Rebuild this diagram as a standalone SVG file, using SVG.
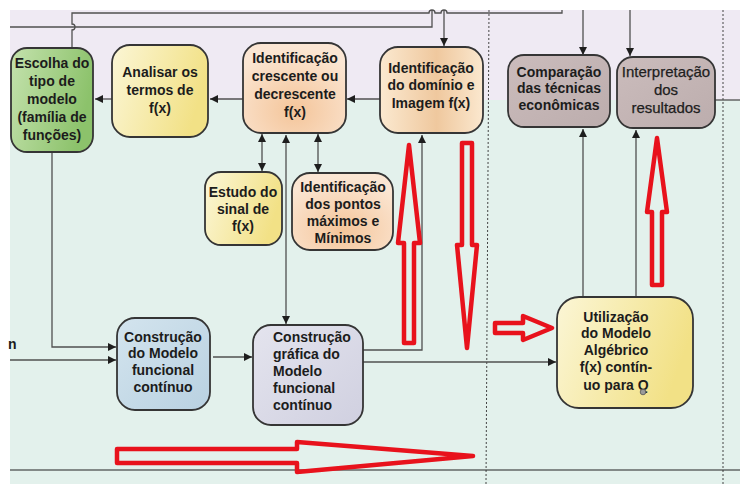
<svg xmlns="http://www.w3.org/2000/svg" width="740" height="484" viewBox="0 0 740 484">
<defs>
  <linearGradient id="gGreen" x1="0" y1="0" x2="1" y2="0.3">
    <stop offset="0" stop-color="#c4e2ad"/>
    <stop offset="1" stop-color="#8cc26b"/>
  </linearGradient>
  <linearGradient id="gYellow" x1="0" y1="0" x2="1" y2="0.3">
    <stop offset="0" stop-color="#fbf6d6"/>
    <stop offset="1" stop-color="#f2e186"/>
  </linearGradient>
  <radialGradient id="gPeach" cx="0.5" cy="0.75" r="0.7">
    <stop offset="0" stop-color="#f4c59a"/>
    <stop offset="1" stop-color="#fbe6d3"/>
  </radialGradient>
  <linearGradient id="gTan" x1="0" y1="0" x2="1" y2="0">
    <stop offset="0" stop-color="#fbe9d0"/>
    <stop offset="0.55" stop-color="#efc89e"/>
    <stop offset="1" stop-color="#fbe8cf"/>
  </linearGradient>
  <linearGradient id="gMauve" x1="0" y1="0" x2="1" y2="1">
    <stop offset="0" stop-color="#cbbcbc"/>
    <stop offset="1" stop-color="#bcadad"/>
  </linearGradient>
  <linearGradient id="gBlue" x1="0" y1="0" x2="1" y2="1">
    <stop offset="0" stop-color="#d3e4ee"/>
    <stop offset="1" stop-color="#b9d1e1"/>
  </linearGradient>
  <linearGradient id="gLav" x1="0" y1="0" x2="1" y2="1">
    <stop offset="0" stop-color="#e4e4ee"/>
    <stop offset="1" stop-color="#d0d0e0"/>
  </linearGradient>
  <marker id="arr" markerUnits="userSpaceOnUse" markerWidth="9" markerHeight="8" refX="8" refY="4" orient="auto-start-reverse">
    <path d="M0,0 L8,4 L0,8 z" fill="#1e1e1e"/>
  </marker>
</defs>
<style>
  .node { stroke: #353535; stroke-width: 1.8; }
  .t { font-family: "Liberation Sans", Arial, sans-serif; font-size: 14px; font-weight: bold; fill: #1c1c1c; text-anchor: middle; }
  .tl { text-anchor: start; }
  .tr { font-weight: normal; font-size: 15px; fill: #1e1e1e; stroke: #1e1e1e; stroke-width: 0.25; }
  .c { fill: none; stroke: #505050; stroke-width: 1.3; }
  .ca { fill: none; stroke: #505050; stroke-width: 1.3; marker-end: url(#arr); }
  .cb { fill: none; stroke: #505050; stroke-width: 1.3; marker-start: url(#arr); marker-end: url(#arr); }
  .dot { fill: none; stroke: #444; stroke-width: 1; stroke-dasharray: 2 2; }
  .red { fill: none; stroke: #e8121c; stroke-width: 4.5; stroke-linejoin: round; }
</style>

<!-- background -->
<rect x="0" y="0" width="740" height="484" fill="#ffffff"/>
<rect x="10" y="10" width="730" height="90" fill="#efeaf3"/>
<rect x="10" y="100" width="730" height="384" fill="#e3f1ec"/>
<line class="dot" x1="489" y1="10" x2="486" y2="484"/>
<line class="dot" x1="723" y1="10" x2="723" y2="484"/>
<line x1="10" y1="470" x2="740" y2="470" stroke="#222" stroke-width="1.2"/>

<!-- connectors -->
<g id="connectors">
  <path class="c" d="M72,48 L72,30 A3,3 0 0 0 72,24 L72,13 L429,13 A3,3 0 0 1 435,13 L441,13 A3,3 0 0 1 447,13 L562,13 L562,10"/>
  <path class="c" d="M10,27 L432,27 L432,10"/>
  <path class="ca" d="M444,10 L444,46"/>
  <path class="ca" d="M583,10 L583,55"/>
  <path class="ca" d="M630,10 L630,56"/>
  <path class="ca" d="M243,99 L210,99"/>
  <path class="ca" d="M112,99 L95,99"/>
  <path class="ca" d="M380,99 L347,99"/>
  <path class="c" d="M715,100 L740,100"/>
  <path class="ca" d="M52,152 L52,347 L116,347"/>
  <path class="ca" d="M10,360 L116,360"/>
  <path class="ca" d="M213,357 L252,357"/>
  <path class="cb" d="M286,135 L286,324"/>
  <path class="cb" d="M262,134 L262,171"/>
  <path class="cb" d="M318,134 L318,172"/>
  <path class="ca" d="M363,350 L422,350 L422,135"/>
  <path class="ca" d="M363,362 L556,362"/>
  <path class="ca" d="M583,297 L583,129"/>
  <path class="ca" d="M636,297 L636,130"/>
</g>

<!-- red hand-drawn arrows -->
<polygon class="red" points="409,145 420,243 414,243 414,343 404,343 404,243 398,243"/>
<polygon class="red" points="462,143 472,143 472,245 477,245 467,348 457,245 462,245"/>
<polygon class="red" points="657,138 667,212 662,212 662,285 652,285 652,212 647,212"/>
<polygon class="red" points="495,323 523,323 523,316 552,328 523,340 523,333 495,333"/>
<polygon class="red" points="117,449 297,449 297,442 473,456 297,472 297,463 117,463"/>

<!-- nodes -->
<g id="escolha">
  <rect class="node" x="11" y="48" width="82" height="104" rx="16" fill="url(#gGreen)"/>
  <text class="t" x="52" y="68">Escolha do</text>
  <text class="t" x="52" y="86">tipo de</text>
  <text class="t" x="52" y="104">modelo</text>
  <text class="t" x="52" y="122">(família de</text>
  <text class="t" x="52" y="140">funções)</text>
</g>
<g id="analisar">
  <rect class="node" x="112" y="45" width="96" height="92" rx="18" fill="url(#gYellow)"/>
  <text class="t" x="160" y="77">Analisar os</text>
  <text class="t" x="160" y="95">termos de</text>
  <text class="t" x="160" y="113">f(x)</text>
</g>
<g id="crescente">
  <rect class="node" x="243" y="43" width="103" height="90" rx="18" fill="url(#gPeach)"/>
  <text class="t" x="295" y="63">Identificação</text>
  <text class="t" x="295" y="81">crescente ou</text>
  <text class="t" x="295" y="99">decrescente</text>
  <text class="t" x="295" y="117">f(x)</text>
</g>
<g id="dominio">
  <rect class="node" x="380" y="47" width="103" height="86" rx="18" fill="url(#gTan)"/>
  <text class="t" x="431" y="73">Identificação</text>
  <text class="t" x="431" y="90">do domínio e</text>
  <text class="t" x="431" y="108">Imagem f(x)</text>
</g>
<g id="comparacao">
  <rect class="node" x="508" y="55" width="102" height="72" rx="16" fill="url(#gMauve)"/>
  <text class="t" x="559" y="77">Comparação</text>
  <text class="t" x="559" y="93">das técnicas</text>
  <text class="t" x="559" y="110">econômicas</text>
</g>
<g id="interpretacao">
  <rect class="node" x="617" y="57" width="98" height="71" rx="16" fill="url(#gMauve)"/>
  <text class="t tr" x="666" y="77">Interpretação</text>
  <text class="t tr" x="666" y="95">dos</text>
  <text class="t tr" x="666" y="113">resultados</text>
</g>
<g id="estudo">
  <rect class="node" x="205" y="172" width="77" height="73" rx="16" fill="url(#gYellow)"/>
  <text class="t" x="243" y="197">Estudo do</text>
  <text class="t" x="243" y="214">sinal de</text>
  <text class="t" x="243" y="231">f(x)</text>
</g>
<g id="pontos">
  <rect class="node" x="292" y="173" width="101" height="77" rx="18" fill="url(#gPeach)"/>
  <text class="t" x="343" y="192">Identificação</text>
  <text class="t" x="343" y="209">dos pontos</text>
  <text class="t" x="343" y="226">máximos e</text>
  <text class="t" x="343" y="243">Mínimos</text>
</g>
<g id="construcao">
  <rect class="node" x="117" y="318" width="93" height="92" rx="18" fill="url(#gBlue)"/>
  <text class="t" x="163" y="342">Construção</text>
  <text class="t" x="163" y="358">do Modelo</text>
  <text class="t" x="163" y="375">funcional</text>
  <text class="t" x="163" y="392">contínuo</text>
</g>
<g id="grafica">
  <rect class="node" x="253" y="325" width="110" height="100" rx="18" fill="url(#gLav)"/>
  <text class="t tl" x="273" y="342">Construção</text>
  <text class="t tl" x="273" y="359">gráfica do</text>
  <text class="t tl" x="273" y="376">Modelo</text>
  <text class="t tl" x="273" y="393">funcional</text>
  <text class="t tl" x="273" y="410">contínuo</text>
</g>
<g id="utilizacao">
  <rect class="node" x="557" y="297" width="136" height="111" rx="22" fill="url(#gYellow)"/>
  <text class="t" x="616" y="322">Utilização</text>
  <text class="t" x="616" y="338">do Modelo</text>
  <text class="t" x="616" y="355">Algébrico</text>
  <text class="t" x="616" y="372">f(x) contín-</text>
  <text class="t" x="616" y="390">uo para Q</text>
  <circle cx="643" cy="392" r="2.8" fill="#9a9a9a" stroke="#555" stroke-width="0.8"/>
</g>
<text class="t tl" x="8" y="349">n</text>
</svg>
